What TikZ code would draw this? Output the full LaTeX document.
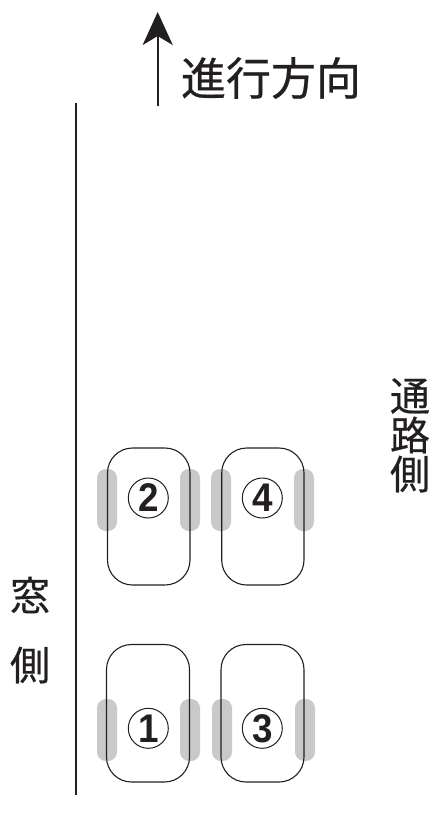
\documentclass[tikz,border=0pt]{standalone}
\usepackage{fontspec}
\usetikzlibrary{arrows.meta}
\setmainfont[FakeBold=0.5]{Noto Sans CJK JP}
\newfontfamily\numfont[FakeStretch=0.92]{Liberation Sans}
\definecolor{barc}{HTML}{C8C9CB}
\definecolor{inkc}{HTML}{231F20}
\tikzset{
  x=1pt,y=-1pt,
  seat/.style={draw=inkc,line width=1.1pt,rounded corners=25pt},
  bar/.style={fill=barc,rounded corners=9pt},
  numcircle/.style={circle,draw=inkc,line width=1pt,minimum size=40pt,inner sep=0pt,text=inkc,font=\numfont\bfseries\fontsize{40}{40}\selectfont},
  lbl/.style={inner sep=0pt,text=inkc},
  line/.style={draw=inkc,line width=2.3pt}
}
\begin{document}
\begin{tikzpicture}
\useasboundingbox (0,0) rectangle (432,823);
% grey bars behind the seats
\foreach \xa/\ya in {97/469,180/469,211/469,294/469,97/699,180/699,212/699,295/699}
  \path[bar] (\xa,\ya) rectangle (\xa+20,\ya+62);
% seats
\draw[seat] (107.5,448) rectangle (190,585);
\draw[seat] (221.7,448) rectangle (304,585);
\draw[seat] (106.5,644.5) rectangle (189.5,782);
\draw[seat] (221,644.5) rectangle (304,782);
% numbers
\node[numcircle] (n2) at (148.3,498) {2};
\node[numcircle] (n4) at (262.3,498) {4};
\node[numcircle] (n1) at (148.3,728.3) {1};
\node[numcircle] (n3) at (262.3,728.3) {3};
% lines
\coordinate (wtop) at (76,103);
\coordinate (wbot) at (76,795);
\draw[line] (wtop) -- (wbot);
\coordinate (atail) at (157.7,106);
\coordinate (ahead) at (157.7,12);
\draw[line,-{Stealth[length=33pt,width=30pt,inset=9pt]}] (atail) -- (ahead);
% labels
\node[lbl,font=\fontsize{45}{45}\selectfont] (dir) at (271,78) {進行方向};
\node[lbl,font=\fontsize{40}{40}\selectfont] (a1) at (410,396) {通};
\node[lbl,font=\fontsize{40}{40}\selectfont] (a2) at (410,435) {路};
\node[lbl,font=\fontsize{40}{40}\selectfont] (a3) at (410,474) {側};
\node[lbl,font=\fontsize{40}{40}\selectfont] (w1) at (30,595) {窓};
\node[lbl,font=\fontsize{40}{40}\selectfont] (w2) at (30,665) {側};
\end{tikzpicture}
\end{document}
